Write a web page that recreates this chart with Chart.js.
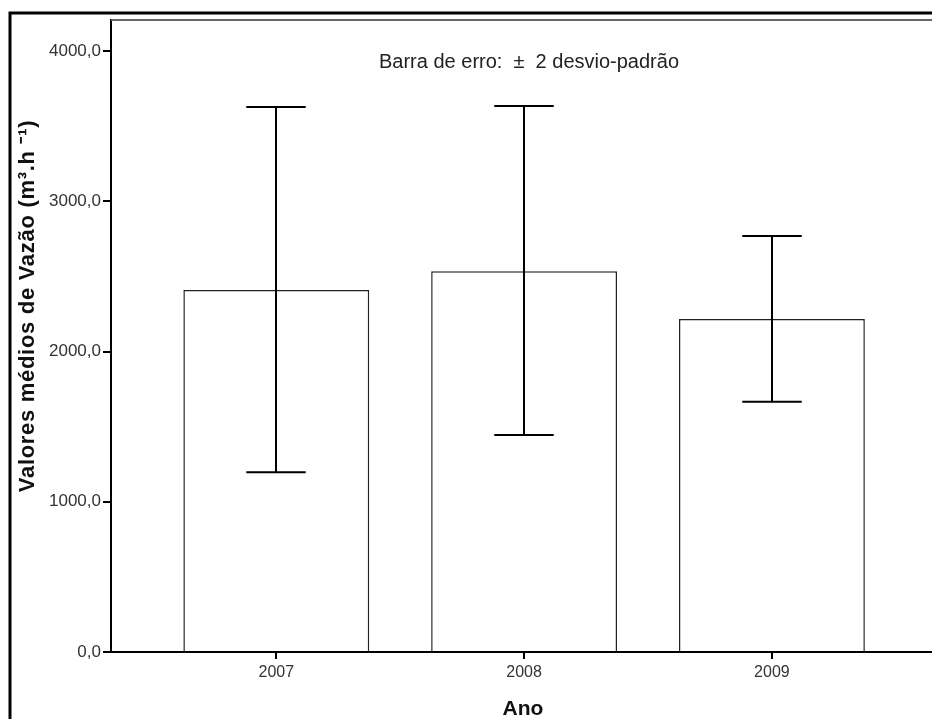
<!DOCTYPE html>
<html>
<head>
<meta charset="utf-8">
<title>Valores médios de Vazão</title>
<script src="https://cdn.jsdelivr.net/npm/chart.js@4.4.1/dist/chart.umd.min.js"></script>
<style>
  html, body { margin: 0; padding: 0; background: #fff; }
  #wrap { width: 932px; height: 719px; position: relative; }
  canvas { display: block; }
</style>
</head>
<body>
<div id="wrap"><canvas id="chart" width="932" height="719"></canvas></div>
<script>
// Mean flow per year with ±2 SD error bars
const years = [2007, 2008, 2009];
const meanFlow = [2410, 2535, 2217];
const errLow = [1196, 1445, 1666];
const errHigh = [3628, 3635, 2770];
const yTicks = [0, 1000, 2000, 3000, 4000];

const yTitle = 'Valores médios de Vazão (m³.h ⁻¹)';
const xTitle = 'Ano';
const note = 'Barra de erro:  ±  2 desvio-padrão';

const FONT = "'Liberation Sans', Arial, sans-serif";

const fmt = v => v.toFixed(1).replace('.', ',');

const decor = {
  id: 'decor',
  beforeDraw(chart) {
    const { ctx, width, height } = chart;
    ctx.save();
    ctx.fillStyle = '#fff';
    ctx.fillRect(0, 0, width, height);
    ctx.restore();
  },
  afterDatasetsDraw(chart) {
    const { ctx, scales: { x, y } } = chart;
    const meta = chart.getDatasetMeta(0);
    ctx.save();
    ctx.strokeStyle = '#000';
    ctx.lineWidth = 2;
    years.forEach((yr, i) => {
      const px = Math.round(x.getPixelForValue(yr));
      const half = meta.data[i].width * 0.16;
      const yl = y.getPixelForValue(errLow[i]);
      const yh = y.getPixelForValue(errHigh[i]);
      ctx.beginPath();
      ctx.moveTo(px, yh); ctx.lineTo(px, yl);
      ctx.moveTo(px - half, yh); ctx.lineTo(px + half, yh);
      ctx.moveTo(px - half, yl); ctx.lineTo(px + half, yl);
      ctx.stroke();
    });
    ctx.restore();
  },
  afterDraw(chart) {
    const { ctx, chartArea: a, width, height } = chart;
    ctx.save();
    // plot frame top edge
    ctx.strokeStyle = '#666';
    ctx.lineWidth = 2;
    ctx.beginPath();
    ctx.moveTo(a.left, a.top);
    ctx.lineTo(width, a.top);
    ctx.stroke();
    // outer frame
    ctx.strokeStyle = '#000';
    ctx.lineWidth = 3;
    ctx.beginPath();
    ctx.moveTo(10, height);
    ctx.lineTo(10, 13);
    ctx.lineTo(width, 13);
    ctx.stroke();

    // error bar note
    ctx.fillStyle = '#222';
    ctx.font = `20px ${FONT}`;
    ctx.textAlign = 'center';
    ctx.textBaseline = 'middle';
    ctx.fillText(note, a.left + 418, a.top + 42);

    // axis titles
    ctx.font = `bold 21px ${FONT}`;
    ctx.fillStyle = '#111';
    ctx.fillText(xTitle, 523, 709);
    ctx.font = `bold 22px ${FONT}`;
    ctx.letterSpacing = '0.7px';
    ctx.translate(28, 306);
    ctx.rotate(-Math.PI / 2);
    ctx.fillText(yTitle, 0, 0);
    ctx.restore();
  }
};

new Chart(document.getElementById('chart'), {
  type: 'bar',
  data: {
    datasets: [{
      data: years.map((yr, i) => ({ x: yr, y: meanFlow[i] })),
      backgroundColor: '#fff',
      borderColor: '#222',
      borderWidth: 1.5,
      borderSkipped: 'bottom',
      barPercentage: 0.75,
      categoryPercentage: 1
    }]
  },
  options: {
    responsive: false,
    devicePixelRatio: 1,
    animation: false,
    layout: { padding: { top: 20, left: 0, right: 0, bottom: 0 } },
    plugins: { legend: { display: false }, tooltip: { enabled: false } },
    scales: {
      x: {
        type: 'linear',
        min: 2006.333,
        max: 2009.646,
        offset: false,
        z: 1,
        afterBuildTicks: s => { s.ticks = years.map(v => ({ value: v })); },
        afterFit: s => { s.height = 67; },
        grid: { offset: false, drawOnChartArea: false, drawTicks: true, tickLength: 7, color: '#000', lineWidth: 2 },
        border: { color: '#000', width: 2 },
        ticks: {
          color: '#333',
          font: { family: FONT, size: 16 },
          padding: 4,
          maxRotation: 0,
          callback: v => String(v)
        }
      },
      y: {
        min: 0,
        max: 4208,
        z: 1,
        afterBuildTicks: s => { s.ticks = yTicks.map(v => ({ value: v })); },
        afterFit: s => { s.width = 111; },
        grid: { drawOnChartArea: false, drawTicks: true, tickLength: 8, color: '#000', lineWidth: 2 },
        border: { color: '#000', width: 2 },
        ticks: {
          color: '#333',
          font: { family: FONT, size: 17 },
          padding: 2,
          callback: v => fmt(v)
        }
      }
    }
  },
  plugins: [decor]
});
</script>
</body>
</html>
